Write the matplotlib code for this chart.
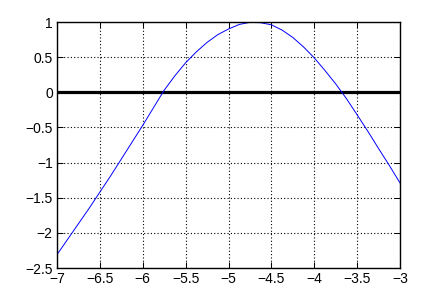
import matplotlib
matplotlib.use("Agg")
import matplotlib.pyplot as plt

# values
x_vals = [-7.0, -6.875, -6.75, -6.625, -6.5, -6.375, -6.25, -6.125, -6.0,
          -5.875, -5.75, -5.625, -5.5, -5.375, -5.25, -5.125, -5.0,
          -4.875, -4.75, -4.625, -4.5, -4.375, -4.25, -4.125, -4.0,
          -3.875, -3.75, -3.625, -3.5, -3.375, -3.25, -3.125, -3.0]
y_curve = [-2.31, -2.09, -1.87, -1.65, -1.42, -1.19, -0.95, -0.71, -0.47,
           -0.22, 0.03, 0.235, 0.42, 0.575, 0.71, 0.82, 0.90,
           0.965, 0.995, 0.99, 0.96, 0.885, 0.78, 0.645, 0.49,
           0.31, 0.12, -0.09, -0.32, -0.555, -0.80, -1.04, -1.29]
y_zero = [0.0] * len(x_vals)

x_ticks = [-7, -6.5, -6, -5.5, -5, -4.5, -4, -3.5, -3]
x_labels = ["\u22127", "\u22126.5", "\u22126", "\u22125.5", "\u22125",
            "\u22124.5", "\u22124", "\u22123.5", "\u22123"]
y_ticks = [-2.5, -2, -1.5, -1, -0.5, 0, 0.5, 1]
y_labels = ["\u22122.5", "\u22122", "\u22121.5", "\u22121", "\u22120.5",
            "0", "0.5", "1"]

plt.rcParams['font.family'] = ['Liberation Sans', 'DejaVu Sans']

fig = plt.figure(figsize=(4.42, 3.02), dpi=100)
ax = fig.add_axes([57 / 442, 34 / 302, 343 / 442, 246 / 302])

ax.plot(x_vals, y_zero, color='black', linewidth=2.3)
ax.plot(x_vals, y_curve, color='blue', linewidth=0.7)

ax.set_xlim(-7, -3)
ax.set_ylim(-2.5, 1)
ax.set_xticks(x_ticks)
ax.set_xticklabels(x_labels)
ax.set_yticks(y_ticks)
ax.set_yticklabels(y_labels)
ax.tick_params(direction='in', top=True, right=True, length=4, width=0.7,
               labelsize=10, pad=3)
ax.grid(True, color='black', linestyle=(0, (1, 2)), linewidth=0.8)
for s in ax.spines.values():
    s.set_linewidth(1.0)

fig.savefig("out.png", dpi=100)
